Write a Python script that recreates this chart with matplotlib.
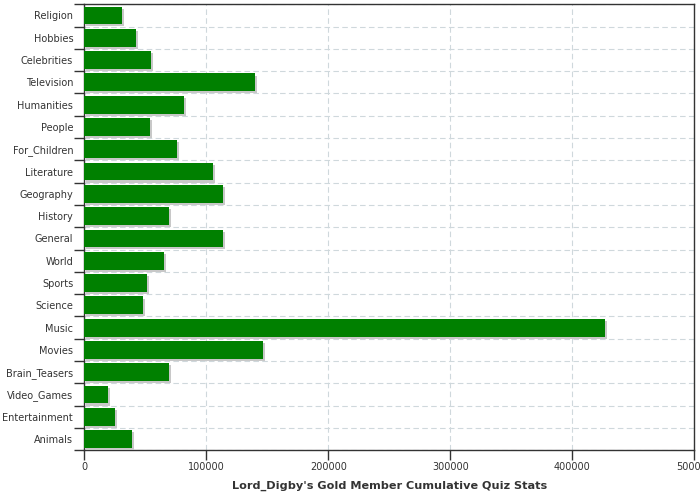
import numpy as np
import matplotlib
matplotlib.use('Agg')
import matplotlib.pyplot as plt
import matplotlib.patheffects as pe

# categories listed top to bottom
categories = ['Religion', 'Hobbies', 'Celebrities', 'Television', 'Humanities',
              'People', 'For_Children', 'Literature', 'Geography', 'History',
              'General', 'World', 'Sports', 'Science', 'Music', 'Movies',
              'Brain_Teasers', 'Video_Games', 'Entertainment', 'Animals']
values = [30900, 42400, 54700, 139900, 81700,
          53800, 76000, 105500, 113700, 69700,
          113700, 65300, 51400, 48100, 427000, 146500,
          69400, 19700, 25200, 39100]
xticks = [0, 100000, 200000, 300000, 400000, 500000]

txt = '#333333'
fig = plt.figure(figsize=(7, 5), dpi=100)
ax = fig.add_axes([0.1204, 0.0994, 0.8715, 0.892])

n = len(categories)
pos = np.arange(n)[::-1]
bars = ax.barh(pos, values, height=0.8, color='#008000', zorder=3)
for b in bars:
    b.set_path_effects([pe.SimplePatchShadow(offset=(1.5, -1.5), shadow_rgbFace='#c8c8c8', alpha=1.0),
                        pe.Normal()])

ax.set_xlim(0, 500000)
ax.set_ylim(-0.5, n - 0.5)
ax.set_xticks(xticks)
ax.set_xticklabels([str(v) for v in xticks])
ax.set_yticks(pos)
ax.set_yticklabels(categories)
ax.set_yticks(np.arange(-0.5, n, 1.0), minor=True)

ax.tick_params(axis='y', which='major', length=0, pad=8, labelsize=7, labelcolor=txt)
ax.tick_params(axis='y', which='minor', length=7.2, width=1, color=txt)
ax.tick_params(axis='x', which='major', length=7.2, width=1, pad=1.5, color=txt, labelsize=7, labelcolor=txt)

ax.grid(axis='x', which='major', ls=(0, (5, 3)), color='#cfd8dc', lw=0.8, zorder=0)
ax.grid(axis='y', which='minor', ls=(0, (5, 3)), color='#cfd8dc', lw=0.8, zorder=0)
ax.set_axisbelow(True)

for s in ax.spines.values():
    s.set_color(txt)
    s.set_linewidth(1)

ax.set_xlabel("Lord_Digby's Gold Member Cumulative Quiz Stats", fontsize=8.1,
              fontweight='bold', color=txt, labelpad=6)

fig.savefig('out.png', dpi=100)
